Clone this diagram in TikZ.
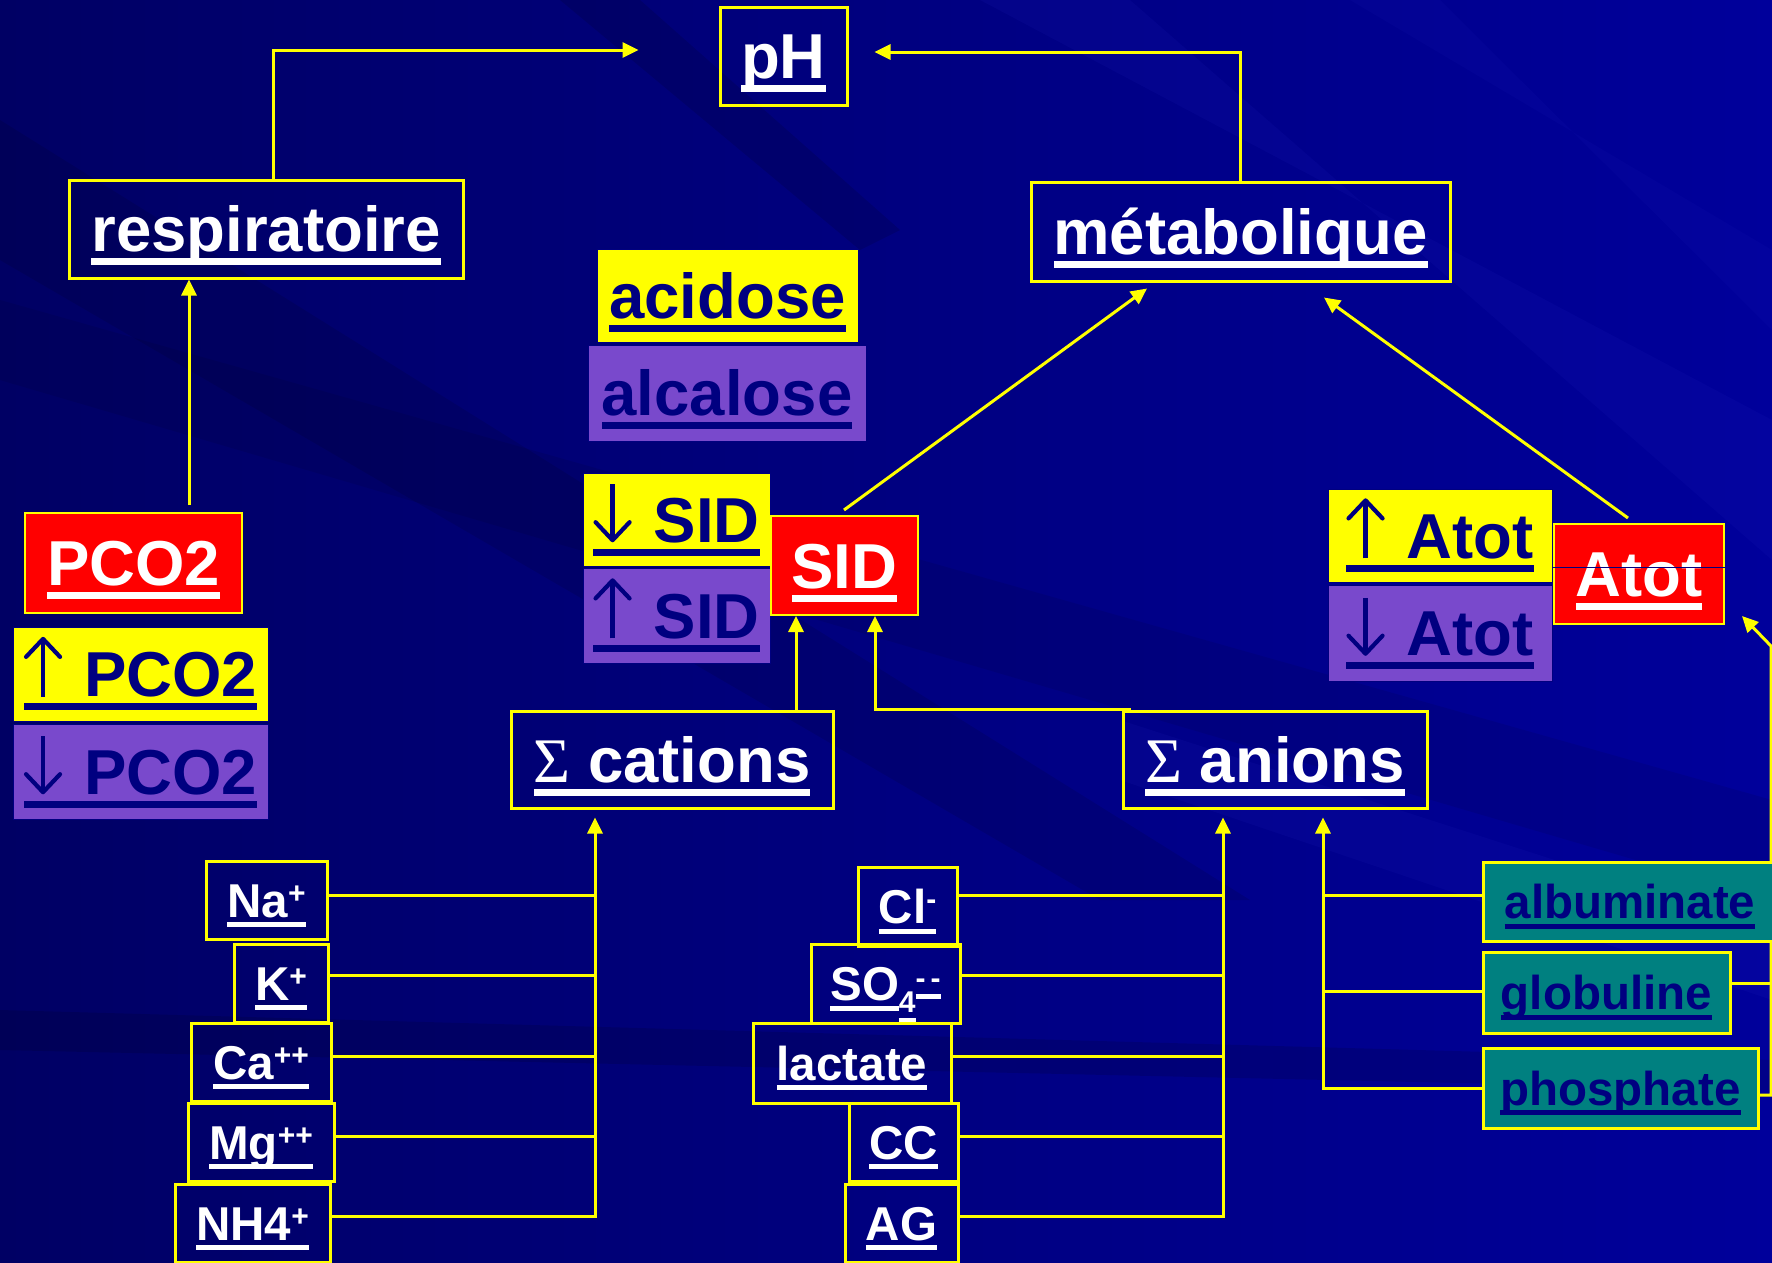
\documentclass[tikz,border=0pt]{standalone}
\usepackage{fontspec}
\setmainfont{Liberation Sans}
\newfontfamily\serifsym{Liberation Serif}
\usetikzlibrary{arrows.meta,calc}
\definecolor{ynav}{RGB}{0,0,128}
\definecolor{yel}{RGB}{255,255,0}
\definecolor{purp}{RGB}{121,73,204}
\definecolor{tealc}{RGB}{0,128,128}
\definecolor{redc}{RGB}{255,0,0}
\definecolor{bgA}{RGB}{0,0,100}
\definecolor{bgB}{RGB}{0,0,155}
\definecolor{streak}{RGB}{40,40,200}
\newsavebox\ulbox
\newcommand\ulx[1]{\sbox\ulbox{#1}\rlap{\rule[-0.21em]{\wd\ulbox}{0.105em}}\usebox\ulbox}
\newcommand\bigf{\fontsize{63.5}{70}\selectfont\bfseries}
\newcommand\smf{\fontsize{47.5}{52}\selectfont\bfseries}
\newcommand\subf{\fontsize{30}{32}\selectfont\bfseries}
\newcommand\supf[1]{\raisebox{14pt}{\subf #1}}
\tikzset{glyph/.style={ynav,line width=4.2pt,line join=round,-{Straight Barb[length=18pt,width=34pt,round]}}}
\newcommand\upar{\tikz[baseline=0pt]\draw[glyph] (0pt,0pt) -- (0pt,60pt);\hspace{22pt}}
\newcommand\dnar{\tikz[baseline=0pt]\draw[glyph] (0pt,58pt) -- (0pt,0pt);\hspace{22pt}}
\newcommand\sigm{{\serifsym\mdseries Σ}}
\pgfdeclarelayer{bgl}
\pgfdeclarelayer{conn}
\pgfsetlayers{bgl,conn,main}
\begin{document}
\begin{tikzpicture}[x=1pt,y=-1pt,
  every node/.style={inner sep=0pt, align=center},
  big/.style={font=\bigf, text height=57pt, text depth=11.4pt},
  small/.style={font=\smf, text height=42.75pt, text depth=8.55pt},
  wbox/.style={draw=yel, line width=3pt, text=white},
  rbox/.style={fill=redc, draw=yel, line width=2pt, text=white},
  ybox/.style={fill=yel, draw=ynav, line width=1pt, text=ynav},
  pbox/.style={fill=purp, draw=ynav, line width=1pt, text=ynav},
  tbox/.style={fill=tealc, draw=yel, line width=3pt, text=ynav},
  sz/.style 2 args={minimum width=#1pt, minimum height=#2pt},
  conn/.style={draw=yel, line width=3pt},
  yarr/.style={conn, -{Triangle[length=16pt,width=15pt]}}]
\useasboundingbox (0,0) rectangle (1772,1262);
\clip (0,0) rectangle (1772,1262);
\begin{pgfonlayer}{bgl}
\shade[left color=bgA, right color=bgB] (0,0) rectangle (1772,1262);
\fill[black, opacity=0.12] (560,0) -- (640,0) -- (900,230) -- (860,250) -- cycle;
\fill[streak, opacity=0.10] (980,0) -- (1130,0) -- (1772,560) -- (1772,420) -- cycle;
\fill[streak, opacity=0.08] (1350,0) -- (1440,0) -- (1772,330) -- (1772,250) -- cycle;
\fill[black, opacity=0.10] (0,120) -- (0,260) -- (1100,900) -- (1250,900) -- cycle;
\fill[streak, opacity=0.10] (1120,720) -- (1120,780) -- (1772,1000) -- (1772,930) -- cycle;
\fill[black, opacity=0.12] (0,1010) -- (0,1050) -- (1772,1090) -- (1772,1060) -- cycle;
\fill[black, opacity=0.08] (0,300) -- (0,380) -- (1772,900) -- (1772,800) -- cycle;
\end{pgfonlayer}

% main nodes
\node[wbox,big,sz={127}{98}] (pH) at (783.5,56) {\ulx{pH}};
\node[wbox,big,sz={394}{98}] (resp) at (266,229) {\ulx{respiratoire}};
\node[wbox,big,sz={419}{99}] (meta) at (1240.5,231.5) {\ulx{métabolique}};
\node[ybox,big,sz={261}{93}] (acid) at (727.5,295.5) {\ulx{acidose}};
\node[pbox,big,sz={278}{96}] (alca) at (727,393) {\ulx{alcalose}};
\node[rbox,big,sz={217}{100}] (pco) at (133.5,563) {\ulx{PCO2}};
\node[ybox,big,sz={255}{94}] (pcoup) at (140.5,674) {\ulx{\upar PCO2}};
\node[pbox,big,sz={255}{95}] (pcodn) at (140.5,771.5) {\ulx{\dnar PCO2}};
\node[ybox,big,sz={187}{93}] (siddn) at (676.5,519.5) {\ulx{\dnar SID}};
\node[pbox,big,sz={187}{95}] (sidup) at (676.5,615.5) {\ulx{\upar SID}};
\node[rbox,big,sz={147}{99}] (sid) at (844.5,565.5) {\ulx{SID}};
\node[ybox,big,sz={224}{93}] (atup) at (1440,535.5) {\ulx{\upar Atot}};
\node[pbox,big,sz={224}{96}] (atdn) at (1440,633) {\ulx{\dnar Atot}};
\node[rbox,big,sz={170}{100}] (atot) at (1639,574) {\ulx{Atot}};
\draw[ynav, line width=1pt] ($(atot.west)+(0,-7)$) -- ($(atot.east)+(0,-7)$);
\node[wbox,big,sz={322}{97}] (cat) at (672,759.5) {\ulx{\sigm\ cations}};
\node[wbox,big,sz={304}{97}] (ani) at (1275,759.5) {\ulx{\sigm\ anions}};

% cations
\node[wbox,small,sz={121}{78}] (na) at (266.5,900) {\ulx{Na\supf{+}}};
\node[wbox,small,sz={94}{78}] (k) at (281,983) {\ulx{K\supf{+}}};
\node[wbox,small,sz={140}{78}] (ca) at (261,1062) {\ulx{Ca\supf{++}}};
\node[wbox,small,sz={146}{78}] (mg) at (261,1142) {\ulx{Mg\supf{++}}};
\node[wbox,small,sz={155}{78}] (nh) at (252.5,1223) {\ulx{NH4\supf{+}}};
% anions
\node[wbox,small,sz={99}{79}] (cl) at (907.5,906.5) {\ulx{Cl\supf{-}}};
\node[wbox,small,sz={149}{79}] (so) at (885.5,983.5) {\ulx{SO}\raisebox{-12pt}{\ulx{\subf 4}}\raisebox{12pt}{\ulx{\subf -\,-}}};
\node[wbox,small,sz={198}{80}] (lac) at (852,1063) {\ulx{lactate}};
\node[wbox,small,sz={109}{78}] (cc) at (903.5,1142) {\ulx{CC}};
\node[wbox,small,sz={113}{78}] (ag) at (901.5,1223) {\ulx{AG}};
% proteins
\node[tbox,small,sz={294}{79}] (alb) at (1630,901.5) {\ulx{albuminate}};
\node[tbox,small,sz={247}{81}] (glo) at (1606.5,992.5) {\ulx{globuline}};
\node[tbox,small,sz={275}{80}] (pho) at (1620.5,1088) {\ulx{phosphate}};

\begin{pgfonlayer}{conn}
\coordinate (pHinL) at ($(pH.west)+(-80,-6)$);
\coordinate (pHinR) at ($(pH.east)+(26,-4)$);
\draw[yarr] ($(resp.north)+(7,0)$) |- (pHinL);
\draw[yarr] (meta.north) |- (pHinR);
\coordinate (p1) at ($(pco.north)+(55.5,-7)$);
\draw[yarr] (p1) -- (p1 |- resp.south);
\draw[yarr] ($(sid.north)+(-0.5,-5)$) -- ($(meta.south)+(-93.5,6)$);
\draw[yarr] ($(atot.north)+(-11,-5)$) -- ($(meta.south)+(83.5,15)$);
\coordinate (c1) at ($(cat.north)+(124,0)$);
\draw[yarr] (c1) -- (c1 |- sid.south);
\draw[yarr] ($(ani.north west)+(9,0)$) -| ($(sid.south)+(30.5,0)$);
% cation bus
\coordinate (cb) at ($(cat.south)+(-77,8)$);
\draw[yarr] ([yshift=7pt]nh.east) -| (cb);
\draw[conn] ([yshift=5pt]na.east) coordinate (t) -- (t -| cb);
\draw[conn] ([yshift=8pt]k.east) coordinate (t) -- (t -| cb);
\draw[conn] ([yshift=6pt]ca.east) coordinate (t) -- (t -| cb);
\draw[conn] ([yshift=6pt]mg.east) coordinate (t) -- (t -| cb);
% anion bus
\coordinate (ab) at ($(ani.south)+(-52,8)$);
\draw[yarr] ([yshift=7pt]ag.east) -| (ab);
\draw[conn] ([yshift=11.5pt]cl.east) coordinate (t) -- (t -| ab);
\draw[conn] ([yshift=8.5pt]so.east) coordinate (t) -- (t -| ab);
\draw[conn] ([yshift=7pt]lac.east) coordinate (t) -- (t -| ab);
\draw[conn] ([yshift=6pt]cc.east) coordinate (t) -- (t -| ab);
% protein bus
\coordinate (pb) at ($(ani.south)+(48,8)$);
\draw[yarr] (pho.west) -| (pb);
\draw[conn] ([yshift=6.5pt]alb.west) coordinate (t) -- (t -| pb);
\draw[conn] ([yshift=1.5pt]glo.west) coordinate (t) -- (t -| pb);
% right bus to Atot
\coordinate (rb) at ($(atot.south east)+(46,21)$);
\draw[yarr] ([yshift=-7pt]pho.east) -| (rb) -- ($(atot.south east)+(17,-9)$);
\draw[conn] ([yshift=9pt]glo.east) coordinate (t) -- (t -| rb);
\end{pgfonlayer}
\end{tikzpicture}
\end{document}
